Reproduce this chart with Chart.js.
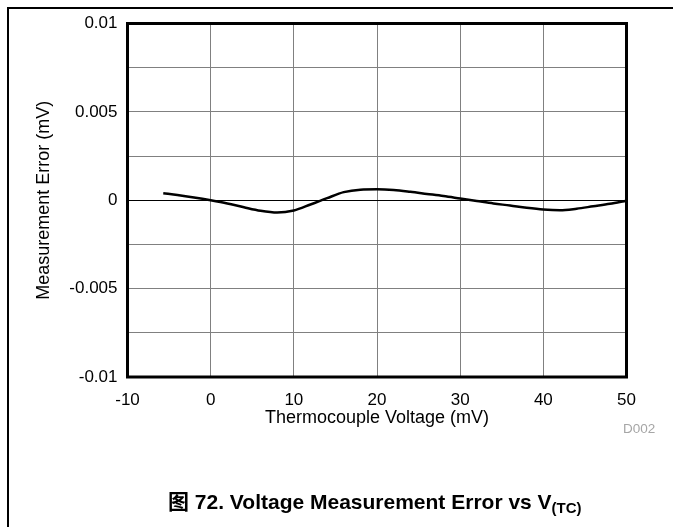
<!DOCTYPE html>
<html>
<head>
<meta charset="utf-8">
<script src="https://cdn.jsdelivr.net/npm/chart.js@4/dist/chart.umd.min.js"></script>
<style>
  html, body { margin: 0; padding: 0; background: #fff; }
  #wrap { position: relative; width: 673px; height: 527px; overflow: hidden; }
  #frame { position: absolute; left: 7px; top: 7px; width: 680px; height: 540px;
           border-top: 2px solid #000; border-left: 2px solid #000; }
  #c { position: absolute; left: 0; top: 0; }
  #code { position: absolute; left: 623px; top: 421px; line-height: 16px;
          font: 13.5px "Liberation Sans", Arial, sans-serif; color: #a6a6a6; }
  #caption { position: absolute; left: 168px; top: 485px; line-height: 23px; white-space: nowrap;
             font: bold 21px "Liberation Sans", Arial, "Noto Sans CJK SC", sans-serif; color: #000; }
  #caption sub { font-size: 15px; line-height: 0; vertical-align: -4px; }
</style>
</head>
<body>
<div id="wrap">
  <div id="frame"></div>
  <canvas id="c" width="673" height="527"></canvas>
  <div id="code">D002</div>
  <div id="caption">图 72. Voltage Measurement Error vs V<sub>(TC)</sub></div>
</div>
<script>
// thermocouple voltage (mV) and measurement error (mV)
const vtc = [-5.7, -4, -2, 0, 2, 4, 6, 8, 10, 12, 14, 16, 18, 20, 22, 24, 26, 28, 30,
             32, 34, 36, 38, 40, 42, 44, 46, 48, 50];
const err = [0.0004, 0.0003, 0.00016, 0.0, -0.00018, -0.0004, -0.0006, -0.0007, -0.00058,
             -0.00024, 0.00012, 0.00046, 0.0006, 0.00062, 0.00058, 0.00048, 0.00036, 0.00024, 0.0001,
             -0.00004, -0.00018, -0.0003, -0.00043, -0.00053, -0.00057, -0.00048, -0.00034, -0.0002, -0.00003];

const xTicks = ['-10', '0', '10', '20', '30', '40', '50'];
const yTicks = ['-0.01', '', '-0.005', '', '0', '', '0.005', '', '0.01'];

const family = '"Liberation Sans", Arial, sans-serif';

// thick black box around the plot area
const plotBox = {
    id: 'plotBox',
    afterDraw(chart) {
        const a = chart.chartArea;
        const ctx = chart.ctx;
        ctx.save();
        ctx.strokeStyle = '#000';
        ctx.lineWidth = 3;
        ctx.strokeRect(a.left, a.top, a.right - a.left, a.bottom - a.top);
        ctx.restore();
    }
};

new Chart(document.getElementById('c'), {
    type: 'line',
    data: {
        datasets: [{
            data: vtc.map((x, i) => ({ x: x, y: err[i] })),
            borderColor: '#000',
            borderWidth: 2.5,
            pointRadius: 0,
            cubicInterpolationMode: 'monotone',
            fill: false
        }]
    },
    options: {
        responsive: false,
        animation: false,
        layout: { padding: { left: 0, top: 23.5, right: 46.5, bottom: 90 } },
        plugins: { legend: { display: false }, tooltip: { enabled: false } },
        scales: {
            x: {
                type: 'linear',
                min: -10, max: 50,
                afterFit: s => { s.height = 60; },
                ticks: {
                    stepSize: 10,
                    color: '#000',
                    font: { family: family, size: 17 },
                    padding: 13,
                    maxRotation: 0,
                    callback: (v, i) => xTicks[i]
                },
                grid: { color: '#808080', lineWidth: 1, drawTicks: false },
                border: { display: false },
                title: {
                    display: true,
                    text: 'Thermocouple Voltage (mV)',
                    color: '#000',
                    font: { family: family, size: 18 },
                    padding: { top: 0, bottom: 8 }
                }
            },
            y: {
                min: -0.01, max: 0.01,
                afterFit: s => { s.width = 127.5; },
                ticks: {
                    stepSize: 0.0025,
                    color: '#000',
                    font: { family: family, size: 17 },
                    padding: 10,
                    callback: (v, i) => yTicks[i]
                },
                grid: {
                    color: ctx => ctx.index === 4 ? '#000' : '#808080',
                    lineWidth: 1,
                    drawTicks: false
                },
                border: { display: false },
                title: {
                    display: true,
                    text: 'Measurement Error (mV)',
                    color: '#000',
                    font: { family: family, size: 18 },
                    padding: { top: 33.5, bottom: 0 }
                }
            }
        }
    },
    plugins: [plotBox]
});
</script>
</body>
</html>
